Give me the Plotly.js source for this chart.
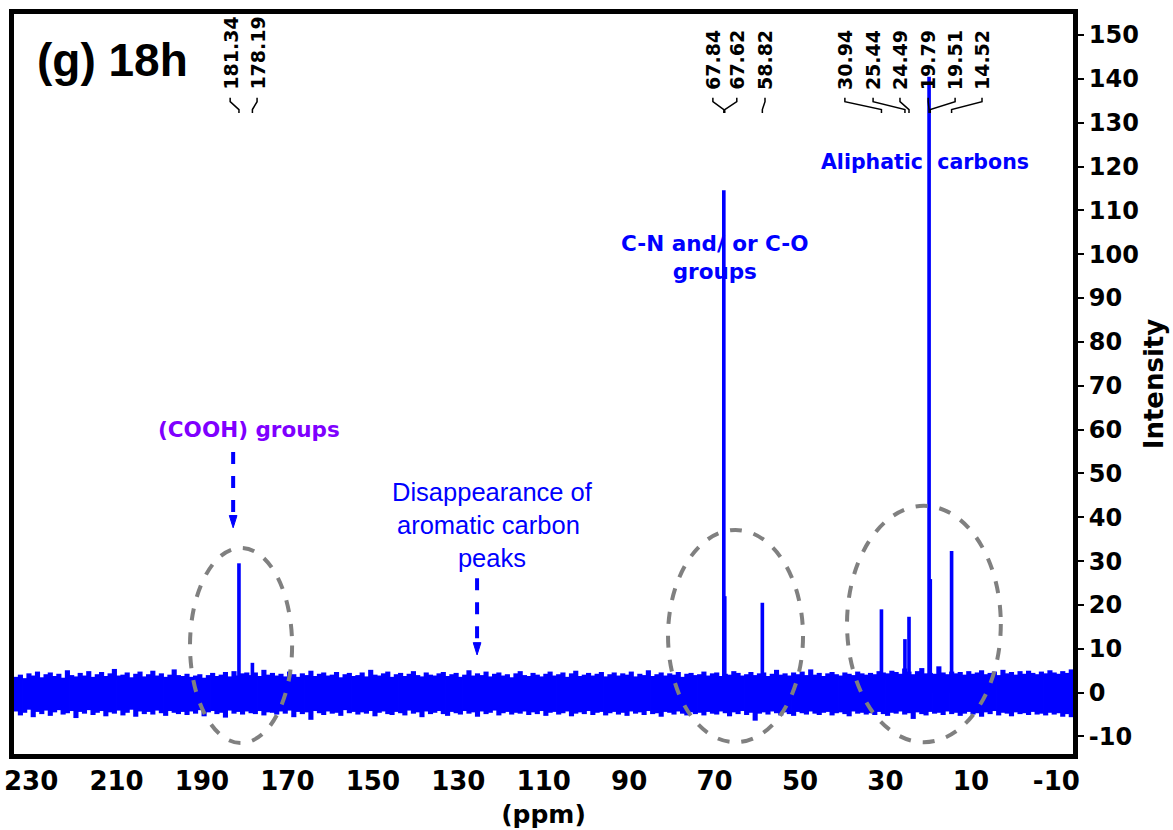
<!DOCTYPE html>
<html>
<head>
<meta charset="utf-8">
<script src="https://cdn.plot.ly/plotly-3.0.1.min.js"></script>
<style>html,body{margin:0;padding:0;background:#fff;}#chart{width:1173px;height:830px;}</style>
</head>
<body>
<div id="chart"></div>
<script>
// ---- data ----
const peakPpm    = [181.34, 178.19, 67.84, 67.62, 58.82, 30.94, 25.44, 24.49, 19.79, 19.51, 14.52];
const peakHeight = [29.5,   6.8,    114.6, 22.0,  20.5,  19.0,  12.2,  17.3,  140.5, 25.9,  32.3];
const peakLabels = ["181.34","178.19","67.84","67.62","58.82","30.94","25.44","24.49","19.79","19.51","14.52"];

// baseline noise envelope, one value per 1 ppm from 233.5 down to -13.5 ppm
const noiseHi = [
 3.6,4.1,3.3,4.4,3.9,4.8,3.5,4.2,4.6,3.8,4.3,3.4,5.1,4.0,3.7,4.5,3.9,4.9,3.6,4.2,
 4.7,3.8,4.4,5.4,3.9,4.1,4.6,3.5,4.3,4.8,3.7,4.2,5.0,3.9,4.4,3.6,4.1,5.3,4.0,3.8,
 4.3,3.6,3.9,4.2,3.4,4.0,4.5,3.8,4.1,4.7,3.7,4.9,3.9,4.4,4.6,4.0,4.6,3.8,5.2,4.1,
 4.5,3.9,4.3,3.7,4.8,4.2,3.6,4.4,4.0,5.0,3.8,4.3,4.6,3.9,4.1,4.7,3.5,4.2,4.5,3.8,
 4.0,4.6,3.7,5.2,4.1,3.9,4.4,4.8,3.6,4.2,4.5,3.8,4.3,4.9,4.0,3.7,4.6,4.1,3.9,4.4,
 4.7,3.8,4.2,4.5,3.6,4.1,5.1,3.9,4.4,4.0,4.8,3.7,4.3,4.6,3.9,4.2,3.5,4.4,4.9,4.0,
 3.8,4.5,4.1,3.7,4.3,4.8,3.9,4.2,4.6,3.6,4.4,5.0,3.8,4.1,4.5,3.9,4.3,4.7,3.7,4.2,
 4.6,3.9,4.4,4.1,4.8,3.7,4.3,4.0,5.1,3.8,4.2,4.6,3.9,4.4,4.1,4.7,3.6,4.3,4.5,4.0,
 4.2,4.8,3.9,4.4,4.6,3.8,4.3,4.1,4.9,4.5,3.9,4.2,4.7,4.0,4.4,4.6,3.8,4.3,5.2,4.1,
 4.4,3.9,4.6,4.2,4.8,4.0,5.3,4.1,4.5,3.8,4.4,4.7,4.2,3.9,4.6,4.3,4.0,4.8,4.4,4.1,
 4.5,4.2,4.9,4.6,4.4,5.0,4.7,4.3,5.5,4.8,4.2,4.9,5.6,4.4,4.5,4.3,6.0,4.6,4.2,4.8,
 4.4,4.7,4.1,4.9,4.3,4.6,5.1,4.2,4.5,4.8,4.0,5.2,4.4,4.7,4.1,4.9,4.3,5.0,4.5,4.2,
 4.8,4.4,5.1,4.6,4.3,4.9,4.5,5.3];
const noiseLo = [
 -4.3,-5.2,-4.6,-3.9,-5.6,-4.4,-4.9,-4.1,-5.3,-4.5,-4.0,-5.0,-4.7,-4.2,-5.8,-4.4,-4.8,-4.0,-5.1,-4.6,
 -4.2,-5.4,-4.5,-4.8,-4.1,-5.2,-4.6,-3.9,-5.5,-4.3,-4.9,-4.4,-5.0,-4.1,-4.7,-5.3,-4.2,-4.6,-4.9,-4.4,
 -5.1,-4.3,-4.8,-4.0,-5.4,-4.5,-4.2,-4.9,-4.6,-5.7,-4.1,-4.8,-4.4,-5.0,-4.3,-4.7,-4.9,-4.2,-5.2,-4.5,
 -4.6,-5.0,-4.3,-4.8,-4.1,-5.6,-4.4,-4.9,-4.5,-6.2,-4.2,-4.7,-5.1,-4.3,-4.8,-4.6,-5.3,-4.0,-4.7,-4.4,
 -5.0,-4.5,-4.8,-4.2,-5.4,-4.6,-4.3,-4.9,-5.1,-4.4,-4.7,-5.2,-4.1,-4.8,-4.5,-5.6,-4.3,-4.9,-4.6,-4.2,
 -4.9,-5.3,-4.4,-4.7,-5.0,-4.2,-4.8,-4.5,-5.5,-4.3,-4.9,-4.6,-4.1,-5.2,-4.7,-4.4,-5.0,-4.6,-4.8,-4.3,
 -5.1,-4.5,-4.9,-4.2,-5.3,-4.6,-4.4,-5.0,-4.7,-4.3,-5.4,-4.8,-4.5,-4.9,-4.2,-5.1,-4.6,-4.4,-5.2,-4.7,
 -4.4,-5.0,-4.6,-5.3,-4.3,-4.8,-4.5,-5.1,-4.2,-4.9,-4.7,-5.5,-4.4,-4.6,-5.0,-4.3,-4.8,-5.2,-4.5,-4.9,
 -4.6,-5.2,-4.4,-4.8,-5.0,-4.3,-4.7,-5.4,-4.5,-4.9,-4.2,-5.1,-4.6,-6.4,-4.8,-4.5,-5.0,-4.3,-4.7,-5.2,
 -4.5,-4.9,-5.3,-4.4,-4.7,-5.0,-4.3,-4.8,-5.1,-4.6,-4.4,-5.2,-4.7,-4.5,-4.9,-5.4,-4.3,-4.8,-4.6,-5.0,
 -4.7,-5.1,-4.4,-4.9,-5.3,-4.6,-4.8,-4.3,-5.0,-4.7,-6.0,-4.5,-4.9,-5.2,-4.4,-4.8,-4.6,-5.1,-4.3,-4.9,
 -4.6,-5.3,-4.8,-4.4,-5.0,-4.7,-5.5,-4.5,-4.9,-4.2,-5.2,-4.6,-4.8,-5.4,-4.5,-4.9,-4.7,-5.1,-4.4,-5.0,
 -4.8,-5.2,-4.6,-5.0,-4.7,-5.5,-4.9,-5.6];
const noiseStart = 233.5, noiseStep = 1.0;

const xTickVals = [230,210,190,170,150,130,110,90,70,50,30,10,-10];
const yTickVals = [-10,0,10,20,30,40,50,60,70,80,90,100,110,120,130,140,150];

// ---- build ----
const BLUE = '#0000FF';
const noiseX = noiseHi.map((_, i) => noiseStart - i * noiseStep);
const noiseLen = noiseHi.map((h, i) => h - noiseLo[i]);

const traces = [
  {type:'bar', x:noiseX, y:noiseLen, base:noiseLo, width:noiseStep * 1.2,
   marker:{color:BLUE, line:{width:0}}, hoverinfo:'skip', showlegend:false},
  {type:'bar', x:peakPpm, y:peakHeight, base:0, width:0.85,
   marker:{color:BLUE, line:{width:0}}, showlegend:false}
];

const bold = (size, color) => ({family:'DejaVu Sans', size:size, color:color||'#000', weight:'bold'});
const hyph = v => String(v).replace('\u2212', '-');

// peak label positions (ppm) above the spectrum
const labelPos = [183.4, 177.1, 70.4, 64.8, 58.2, 39.5, 32.9, 26.6, 20.0, 13.7, 7.4];

const annotations = [];
const shapes = [];
peakLabels.forEach((t, i) => {
  annotations.push({x:labelPos[i], y:137.0, xref:'x', yref:'y', text:t, showarrow:false,
    textangle:-90, xanchor:'center', yanchor:'bottom', font:bold(19)});
  const lx = labelPos[i], px = peakPpm[i];
  shapes.push({type:'path', xref:'x', yref:'y',
    path:`M ${lx},135.7 L ${lx},134.8 L ${px},133.0 L ${px},132.2`,
    line:{color:'#000', width:1.5}});
});

annotations.push(
  {x:211.0, y:144.3, xref:'x', yref:'y', text:'(g) 18h', showarrow:false,
   font:{family:'Liberation Sans', size:46, color:'#000', weight:'bold'}},
  {x:179.0, y:60.1, xref:'x', yref:'y', text:'(COOH) groups', showarrow:false,
   font:bold(21.5, '#7F00FF')},
  {x:122.1, y:38.2, xref:'x', yref:'y', text:'Disappearance of<br>aromatic carbon <br>peaks', showarrow:false,
   font:{family:'Liberation Sans', size:25.5, color:BLUE}},
  {x:69.9, y:99.3, xref:'x', yref:'y', text:'C-N and/ or C-O<br>groups', showarrow:false,
   font:bold(21.5, BLUE)},
  {x:20.75, y:121.0, xref:'x', yref:'y', text:'Aliphatic  carbons', showarrow:false,
   font:bold(20.5, BLUE)}
);

// dashed arrows
function dashedArrow(x, y0, y1) {
  shapes.push({type:'line', xref:'x', yref:'y', x0:x, x1:x, y0:y0, y1:y1+2.2,
    line:{color:BLUE, width:4, dash:'dash'}});
  shapes.push({type:'path', xref:'x', yref:'y',
    path:`M ${x+0.9},${y1+2.8} L ${x-0.9},${y1+2.8} L ${x},${y1} Z`,
    fillcolor:BLUE, line:{color:BLUE, width:1}});
}
dashedArrow(182.7, 54.9, 37.6);
dashedArrow(125.6, 26.1, 8.6);

// dashed ellipses
const ell = [[192.8,168.9,-11.5,33.0],[80.9,49.3,-11.3,37.1],[39.0,3.0,-11.3,42.6]];
ell.forEach(e => shapes.push({type:'circle', xref:'x', yref:'y', x0:e[0], x1:e[1], y0:e[2], y1:e[3],
  line:{color:'#808080', width:4, dash:'dash'}, layer:'above'}));

const layout = {
  width:1173, height:830,
  margin:{l:14, r:100, t:14, b:76},
  paper_bgcolor:'#fff', plot_bgcolor:'#fff',
  barmode:'overlay', showlegend:false,
  xaxis:{range:[234.0,-13.9], tickvals:xTickVals, ticktext:xTickVals.map(hyph),
    showgrid:false, zeroline:false, showline:true, linewidth:5, linecolor:'#000', mirror:true,
    ticks:'', tickfont:bold(26),
    title:{text:'(ppm)', font:bold(25), standoff:12}},
  yaxis:{range:[-14.0,154.8], side:'right', tickvals:yTickVals, ticktext:yTickVals.map(hyph),
    showgrid:false, zeroline:false, showline:true, linewidth:5, linecolor:'#000', mirror:true,
    ticks:'outside', ticklen:6, tickwidth:2, tickcolor:'#000', tickfont:bold(24),
    title:{text:'Intensity', font:bold(26), standoff:8}},
  annotations:annotations, shapes:shapes
};

Plotly.newPlot('chart', traces, layout, {displayModeBar:false, staticPlot:true});
</script>
</body>
</html>
